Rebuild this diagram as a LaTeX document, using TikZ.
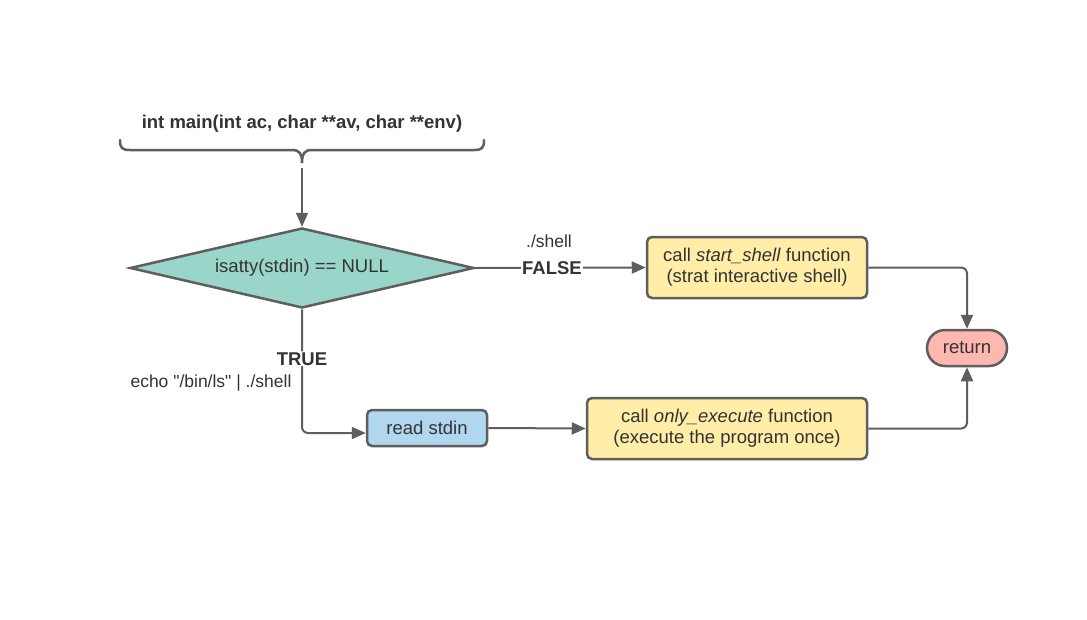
\documentclass[tikz,border=0pt]{standalone}
\usepackage{fontspec}
\setmainfont{Liberation Sans}[Ligatures=TeXOff]
\usetikzlibrary{shapes.geometric,arrows.meta}
\definecolor{ln}{HTML}{5E5E5E}
\definecolor{tx}{HTML}{333333}
\definecolor{cteal}{HTML}{9AD5CA}
\definecolor{cyel}{HTML}{FFEDA8}
\definecolor{cblue}{HTML}{B1D6F0}
\definecolor{cred}{HTML}{FFB8AF}
\begin{document}
\begin{tikzpicture}[x=1pt,y=-1pt,
  every node/.style={text=tx, font=\fontsize{18.5}{21.5}\selectfont},
  box/.style={draw=ln, line width=2.5pt, rounded corners=5pt, align=center, inner sep=0pt},
  ret/.style={draw=ln, line width=2.5pt, rounded corners=18pt, inner sep=0pt},
  dia/.style={diamond, draw=ln, line width=2.5pt, inner sep=0pt, aspect=4.3},
  arr/.style={draw=ln, line width=2pt, rounded corners=6pt, -{Triangle[length=14pt,width=12pt]}},
  lbl/.style={fill=white, inner sep=1pt, font=\fontsize{18.5}{21.5}\selectfont\bfseries},
  plain/.style={inner sep=0pt}
]
\useasboundingbox (0,0) rectangle (1087,619);
\fill[white] (0,0) rectangle (1087,619);

% title and brace
\node[plain, font=\fontsize{18.5}{21.5}\selectfont\bfseries] (t) at (302,124) {int main(int ac, char **av, char **env)};
\draw[ln, line width=2.5pt, line cap=round]
  (120,140) .. controls (120,148) and (122,150) .. (130,150) -- (292,150)
  .. controls (300,150) and (302,154) .. (302,163)
  .. controls (302,154) and (304,150) .. (312,150) -- (474,150)
  .. controls (482,150) and (484,148) .. (484,140);
\coordinate (bt) at (302,168);

% nodes
\node[dia, fill=cteal, minimum width=344pt, minimum height=80pt] (d) at (302,268) {isatty(stdin) == NULL};
\node[box, fill=cyel, minimum width=220pt, minimum height=61pt] (ss) at (757,267.5) {\strut call \textit{start\_shell} function\\\strut(strat interactive shell)};
\node[ret, fill=cred, minimum width=80pt, minimum height=36pt] (rt) at (967,348) {return};
\node[box, fill=cblue, minimum width=120pt, minimum height=36pt] (rs) at (427,428) {read stdin};
\node[box, fill=cyel, minimum width=280pt, minimum height=61pt] (oe) at (727,428.5) {\strut call \textit{only\_execute} function\\\strut(execute the program once)};

% connectors
\draw[arr] (bt) -- (d.north);
\draw[arr] (d.east) -- node[lbl, pos=0.45] (fl) {FALSE} (ss.west);
\node[plain, font=\fontsize{17.5}{20}\selectfont] (sh) at (549,241) {./shell};
\draw[arr] (ss.east) -| (rt.north);
\draw[arr] (d.south) |- node[lbl, pos=0.2] (tl) {TRUE} ([yshift=-5pt]rs.west);
\node[plain, font=\fontsize{17.5}{20}\selectfont] (ec) at (211,383) {echo "/bin/ls" | ./shell};
\draw[arr] (rs.east) -- (oe.west);
\draw[arr] (oe.east) -| (rt.south);
\end{tikzpicture}
\end{document}
